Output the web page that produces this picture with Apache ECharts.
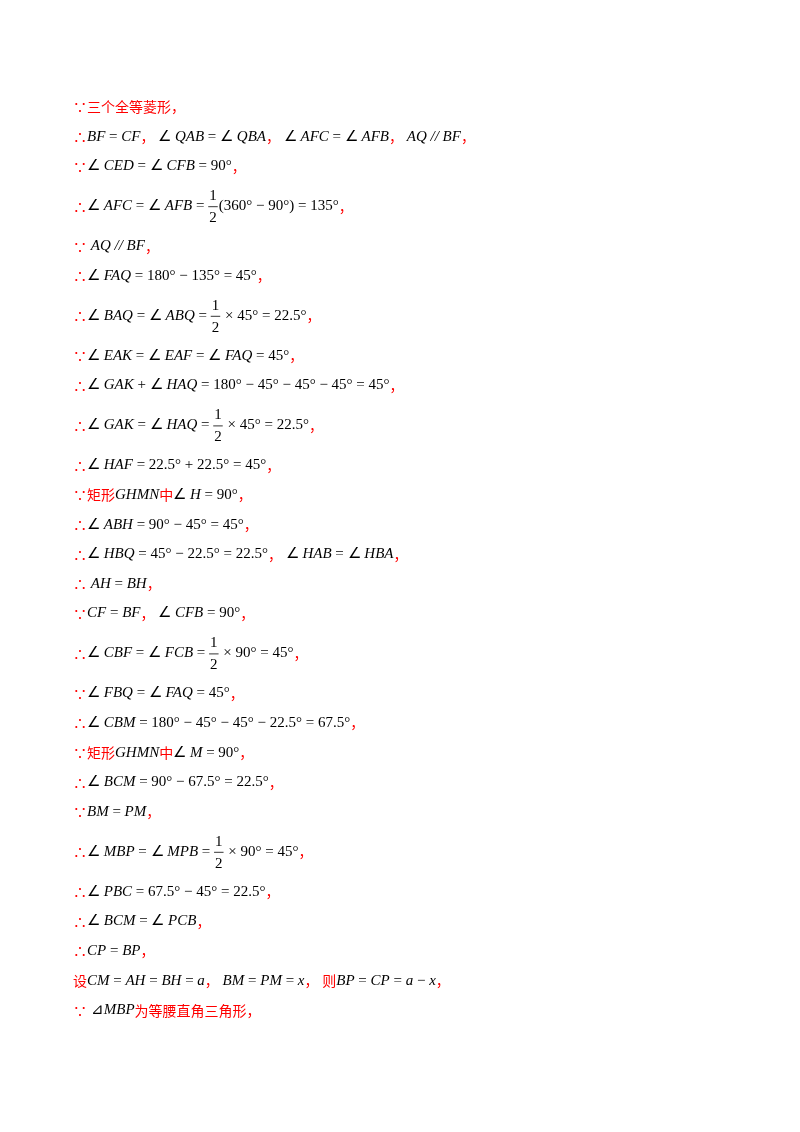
<!DOCTYPE html>
<html>
<head>
<meta charset="utf-8">
<script src="https://cdn.jsdelivr.net/npm/echarts@6/dist/echarts.min.js"></script>
<style>
html,body{margin:0;padding:0;background:#fff;}
#main{width:800px;height:1132px;}
</style>
</head>
<body>
<div id="main"></div>
<script>
// proof lines: {r|..} red, {i|..} italic, {f|a/b} fraction, plain = black upright
var lines = [
    '{r|∵三个全等菱形，}',
    '{r|∴}{i|BF} = {i|CF}{r|，} ∠ {i|QAB} = ∠ {i|QBA}{r|，} ∠ {i|AFC} = ∠ {i|AFB}{r|，} {i|AQ} {i|//} {i|BF}{r|，}',
    '{r|∵}∠ {i|CED} = ∠ {i|CFB} = 90°{r|，}',
    '{r|∴}∠ {i|AFC} = ∠ {i|AFB} = {f|1/2}(360° − 90°) = 135°{r|，}',
    '{r|∵} {i|AQ} {i|//} {i|BF}{r|，}',
    '{r|∴}∠ {i|FAQ} = 180° − 135° = 45°{r|，}',
    '{r|∴}∠ {i|BAQ} = ∠ {i|ABQ} = {f|1/2} × 45° = 22.5°{r|，}',
    '{r|∵}∠ {i|EAK} = ∠ {i|EAF} = ∠ {i|FAQ} = 45°{r|，}',
    '{r|∴}∠ {i|GAK} + ∠ {i|HAQ} = 180° − 45° − 45° − 45° = 45°{r|，}',
    '{r|∴}∠ {i|GAK} = ∠ {i|HAQ} = {f|1/2} × 45° = 22.5°{r|，}',
    '{r|∴}∠ {i|HAF} = 22.5° + 22.5° = 45°{r|，}',
    '{r|∵矩形}{i|GHMN}{r|中}∠ {i|H} = 90°{r|，}',
    '{r|∴}∠ {i|ABH} = 90° − 45° = 45°{r|，}',
    '{r|∴}∠ {i|HBQ} = 45° − 22.5° = 22.5°{r|，} ∠ {i|HAB} = ∠ {i|HBA}{r|，}',
    '{r|∴} {i|AH} = {i|BH}{r|，}',
    '{r|∵}{i|CF} = {i|BF}{r|，} ∠ {i|CFB} = 90°{r|，}',
    '{r|∴}∠ {i|CBF} = ∠ {i|FCB} = {f|1/2} × 90° = 45°{r|，}',
    '{r|∵}∠ {i|FBQ} = ∠ {i|FAQ} = 45°{r|，}',
    '{r|∴}∠ {i|CBM} = 180° − 45° − 45° − 22.5° = 67.5°{r|，}',
    '{r|∵矩形}{i|GHMN}{r|中}∠ {i|M} = 90°{r|，}',
    '{r|∴}∠ {i|BCM} = 90° − 67.5° = 22.5°{r|，}',
    '{r|∵}{i|BM} = {i|PM}{r|，}',
    '{r|∴}∠ {i|MBP} = ∠ {i|MPB} = {f|1/2} × 90° = 45°{r|，}',
    '{r|∴}∠ {i|PBC} = 67.5° − 45° = 22.5°{r|，}',
    '{r|∴}∠ {i|BCM} = ∠ {i|PCB}{r|，}',
    '{r|∴}{i|CP} = {i|BP}{r|，}',
    '{r|设}{i|CM} = {i|AH} = {i|BH} = {i|a}{r|，} {i|BM} = {i|PM} = {i|x}{r|，} {r|则}{i|BP} = {i|CP} = {i|a} − {i|x}{r|，}',
    '{r|∵} ⊿{i|MBP}{r|为等腰直角三角形，}'
];

var fonts = {
    n: '15px "Liberation Serif"',
    i: 'italic 15px "Liberation Serif"',
    r: '14px "Noto Sans CJK SC"',
    f: '15px "Liberation Serif"'
};
var colors = { n: '#000', i: '#000', r: '#ff0000', f: '#000' };

var ctx = document.createElement('canvas').getContext('2d');
function measure(t, font) { ctx.font = font; return ctx.measureText(t).width; }

function parse(s) {
    var out = [], re = /\{(\w)\|([^}]*)\}/g, last = 0, m;
    while ((m = re.exec(s))) {
        if (m.index > last) out.push({ k: 'n', t: s.slice(last, m.index) });
        out.push({ k: m[1], t: m[2] });
        last = re.lastIndex;
    }
    if (last < s.length) out.push({ k: 'n', t: s.slice(last) });
    return out;
}

var elements = [];
var y = 107, left = 73;
lines.forEach(function (line, idx) {
    var hasFrac = line.indexOf('{f|') >= 0;
    if (idx > 0) {
        var prevFrac = lines[idx - 1].indexOf('{f|') >= 0;
        y += (hasFrac || prevFrac) ? 40 : 29.6;
    }
    var x = left;
    parse(line).forEach(function (seg) {
        if (seg.k === 'f') {
            var p = seg.t.split('/');
            var w = Math.max(measure(p[0], fonts.f), measure(p[1], fonts.f)) + 2;
            elements.push({ type: 'text', x: x + w / 2, y: y - 10, style: { text: p[0], font: fonts.f, fill: '#000', align: 'center', verticalAlign: 'middle' } });
            elements.push({ type: 'text', x: x + w / 2, y: y + 12, style: { text: p[1], font: fonts.f, fill: '#000', align: 'center', verticalAlign: 'middle' } });
            elements.push({ type: 'line', shape: { x1: x, y1: y + 0.5, x2: x + w, y2: y + 0.5 }, style: { stroke: '#000', lineWidth: 0.8 } });
            x += w + 1;
        } else {
            elements.push({ type: 'text', x: x, y: y, style: { text: seg.t, font: fonts[seg.k], fill: colors[seg.k], verticalAlign: 'middle' } });
            x += measure(seg.t, fonts[seg.k]);
        }
    });
});

var myChart = echarts.init(document.getElementById('main'));
myChart.setOption({
    animation: false,
    backgroundColor: '#fff',
    graphic: { elements: elements }
});
</script>
</body>
</html>
